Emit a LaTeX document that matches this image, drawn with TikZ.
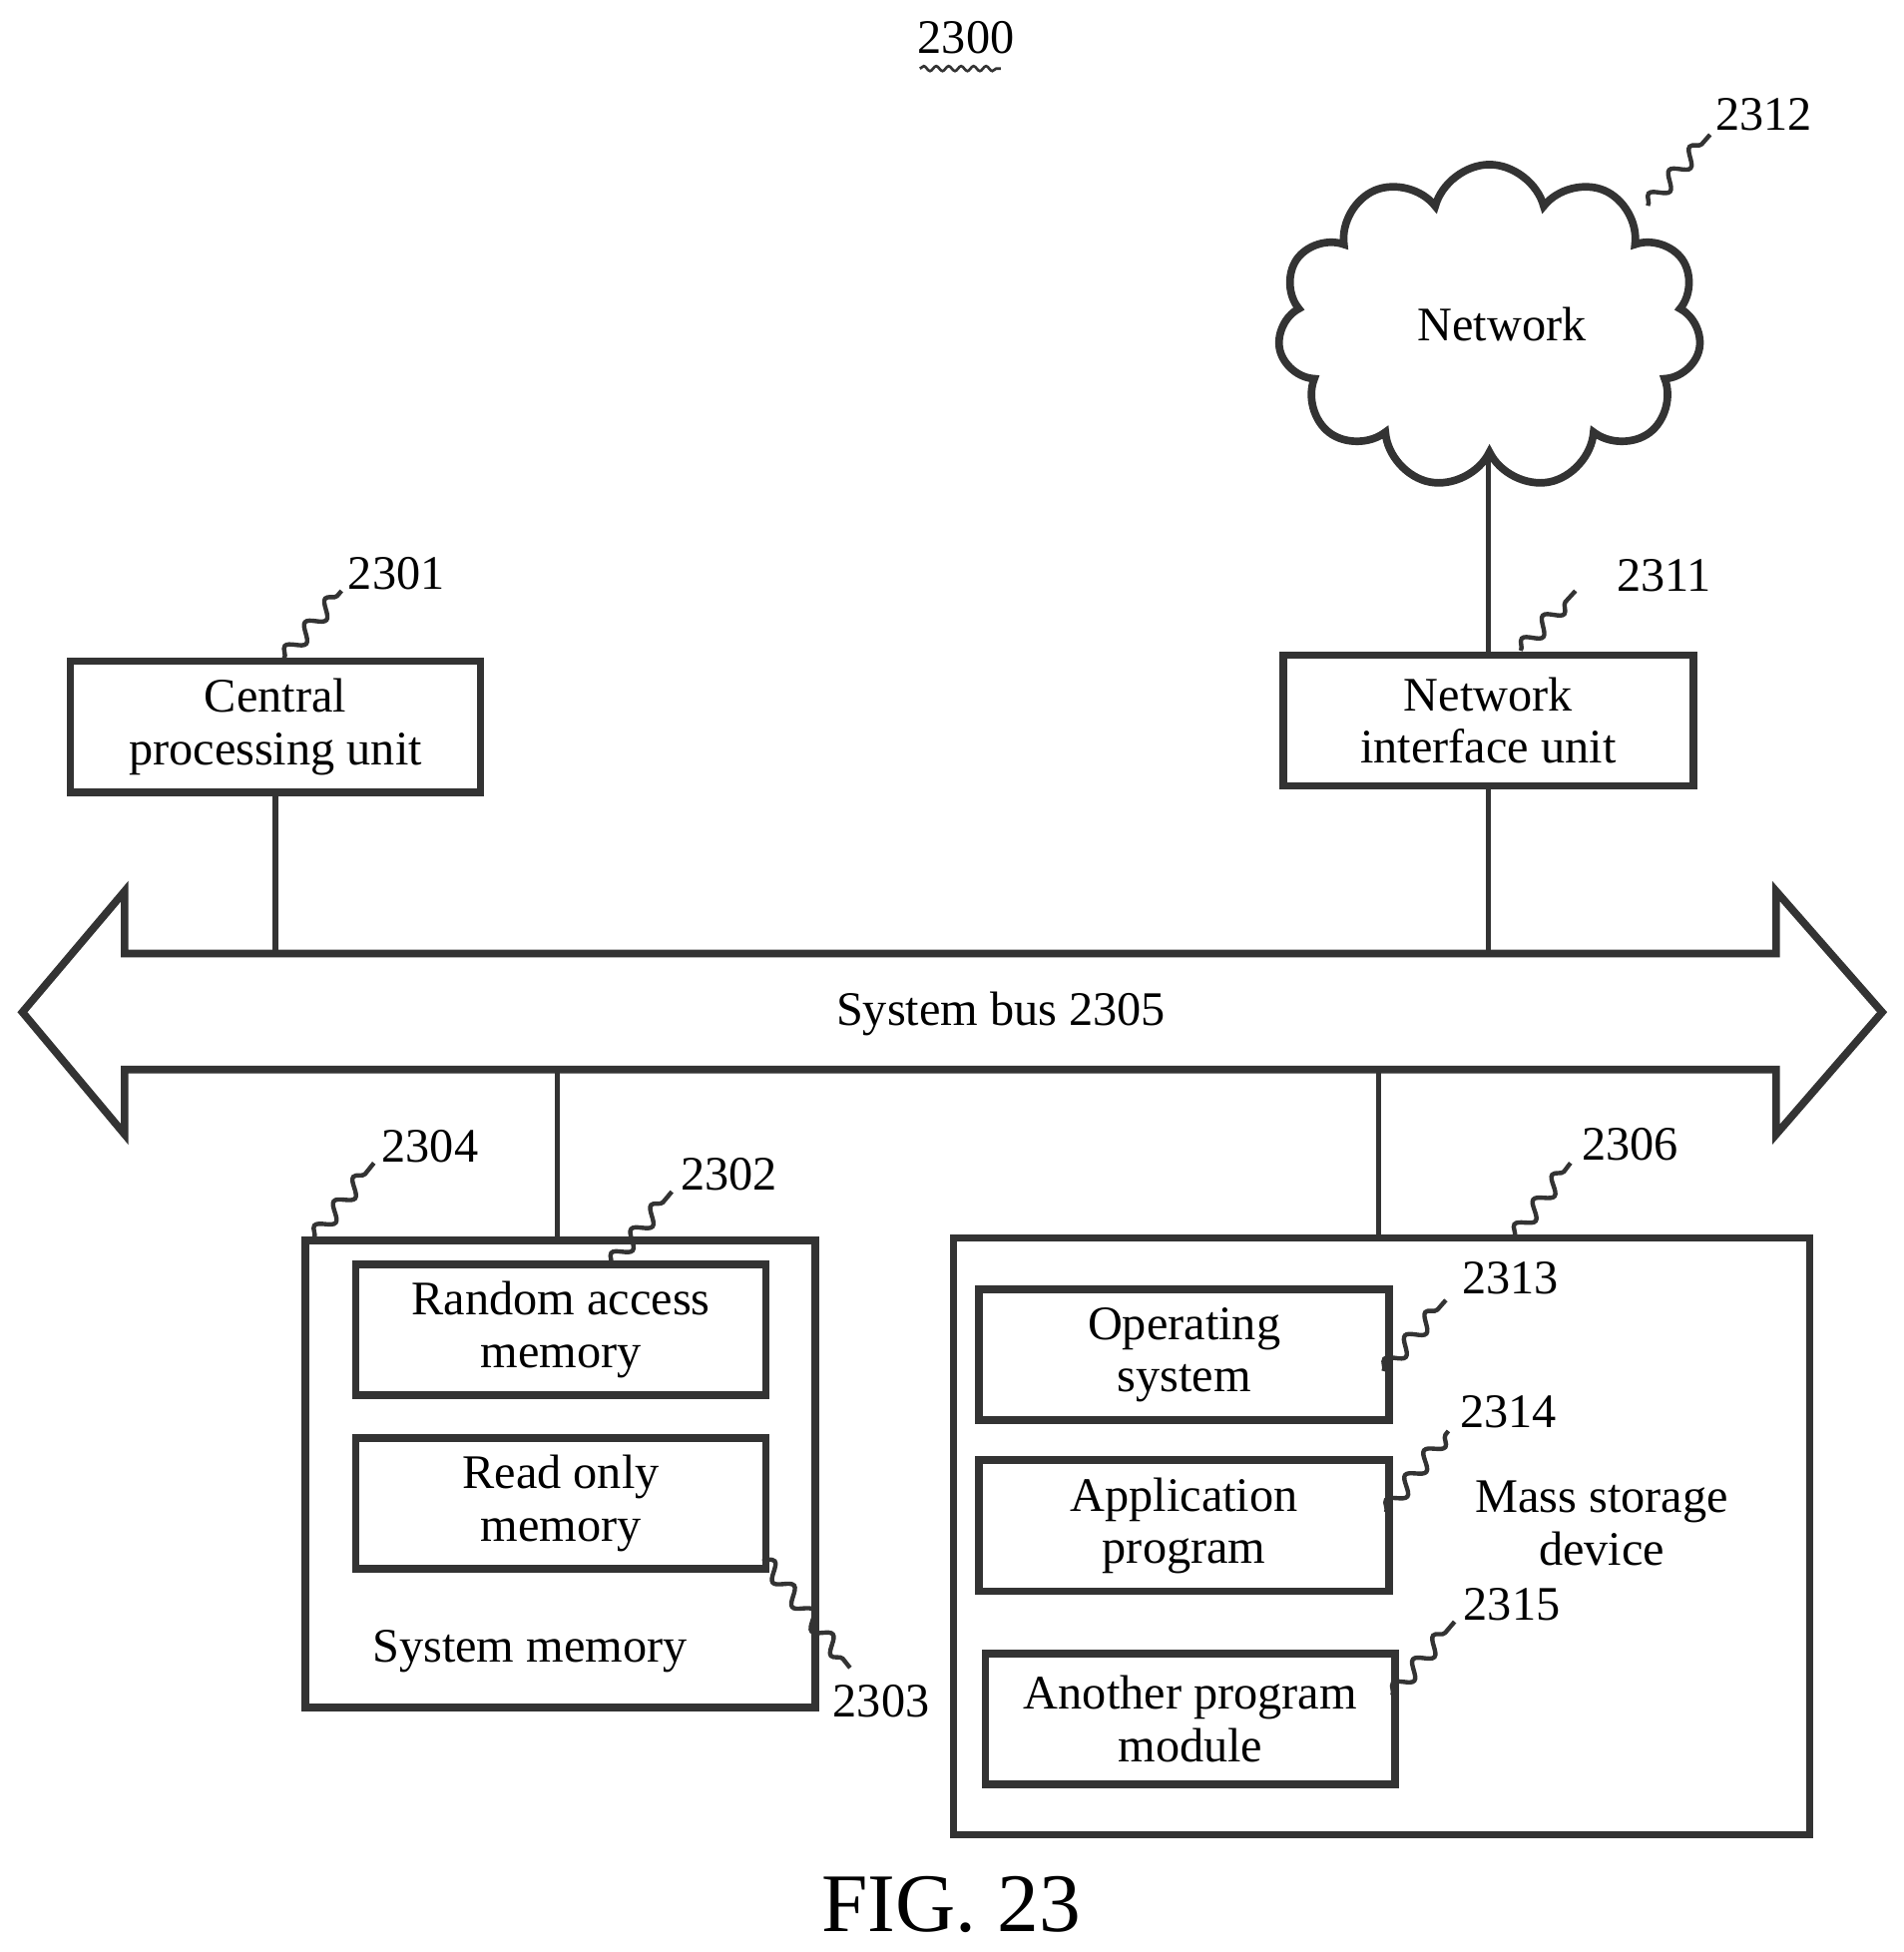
\documentclass[tikz,border=0pt]{standalone}
\usepackage{fontspec}
\setmainfont{Liberation Serif}
\usetikzlibrary{shapes.symbols,decorations.pathmorphing}
\tikzset{
  box/.style={draw=black!80, line width=3.5pt, align=center, inner sep=0pt,
    minimum width=6.58cm, minimum height=2.1cm},
  wire/.style={draw=black!80, line width=2.5pt},
  leader/.style={draw=black!80, line width=2pt, decorate,
    decoration={snake, amplitude=1.2mm, segment length=5mm}},
  num/.style={inner sep=1pt}
}
\begin{document}
\begin{tikzpicture}[x=0.02cm, y=-0.02cm, font=\fontsize{22}{25}\selectfont]
\useasboundingbox (0,0) rectangle (1527,1566);

\node (title) at (775,30) {2300};
\draw[leader, decoration={snake, amplitude=0.4mm, segment length=2mm}, line width=1.2pt] (738,55) -- (803,55);

% network side
\node[cloud, cloud puffs=11, draw=black!80, line width=3.5pt, minimum width=6.8cm, minimum height=5.2cm] (net) at (1195,262) {};
\node at (1205,260) {Network};
\node[num] (l2312) at (1415,92) {2312};
\draw[leader] (1322,165) -- (1372,108);
\node[box] (niu) at (1194,578) {Network\\[-1pt]interface unit};
\node[num] (l2311) at (1335,462) {2311};
\draw[leader] (1220,522) -- (1264,474);

% cpu
\node[box] (cpu) at (221,583) {Central\\[-1pt]processing unit};
\node[num] (l2301) at (318,460) {2301};
\draw[leader] (228,528) -- (274,474);

% system bus
\draw[draw=black!80, line width=3.5pt] (18,812) -- (100,715) -- (100,765) -- (1425,765) -- (1425,715)
  -- (1510,812) -- (1425,910) -- (1425,858) -- (100,858) -- (100,910) -- cycle;
\node (bus) at (803,813) {System bus 2305};
\coordinate (bcpu) at (221,765);
\coordinate (bniu) at (1194,765);
\coordinate (bmem) at (447,858);
\coordinate (bmass) at (1106,858);

\draw[wire] (niu.north) -- (niu.north |- net.south);
\draw[wire] (niu.south) -- (bniu);
\draw[wire] (cpu.south) -- (bcpu);

% system memory
\node[box, minimum width=8.18cm, minimum height=7.5cm] (sysmem) at (449.5,1182.5) {};
\node at (425,1325) {System memory};
\node[num] (l2304) at (345,920) {2304};
\draw[leader] (252,993) -- (300,933);
\node[box] (ram) at (450,1067) {Random access\\[-1pt]memory};
\node[num] (l2302) at (585,942) {2302};
\draw[leader] (490,1015) -- (539,956);
\node[box] (rom) at (450,1206) {Read only\\[-1pt]memory};
\node[num] (l2303) at (707,1365) {2303};
\draw[leader] (612,1250) -- (682,1338);
\draw[wire] (bmem) -- (sysmem.north -| bmem);

% mass storage
\node[box, minimum width=13.74cm, minimum height=9.58cm] (mass) at (1108.5,1232.5) {};
\node[align=center] at (1285,1222) {Mass storage\\[-1pt]device};
\node[num] (l2306) at (1308,918) {2306};
\draw[leader] (1215,992) -- (1260,933);
\draw[wire] (bmass) -- (mass.north -| bmass);
\node[box] (os) at (950,1087) {Operating\\[-1pt]system};
\node[num] (l2313) at (1212,1025) {2313};
\draw[leader] (1110,1100) -- (1160,1043);
\node[box] (app) at (950,1224) {Application\\[-1pt]program};
\node[num] (l2314) at (1210,1133) {2314};
\draw[leader] (1112,1213) -- (1162,1148);
\node[box] (other) at (955,1379) {Another program\\[-1pt]module};
\node[num] (l2315) at (1213,1287) {2315};
\draw[leader] (1117,1360) -- (1167,1301);

\node[font=\fontsize{38}{42}\selectfont] (fig) at (763,1528) {FIG. 23};
\end{tikzpicture}
\end{document}
